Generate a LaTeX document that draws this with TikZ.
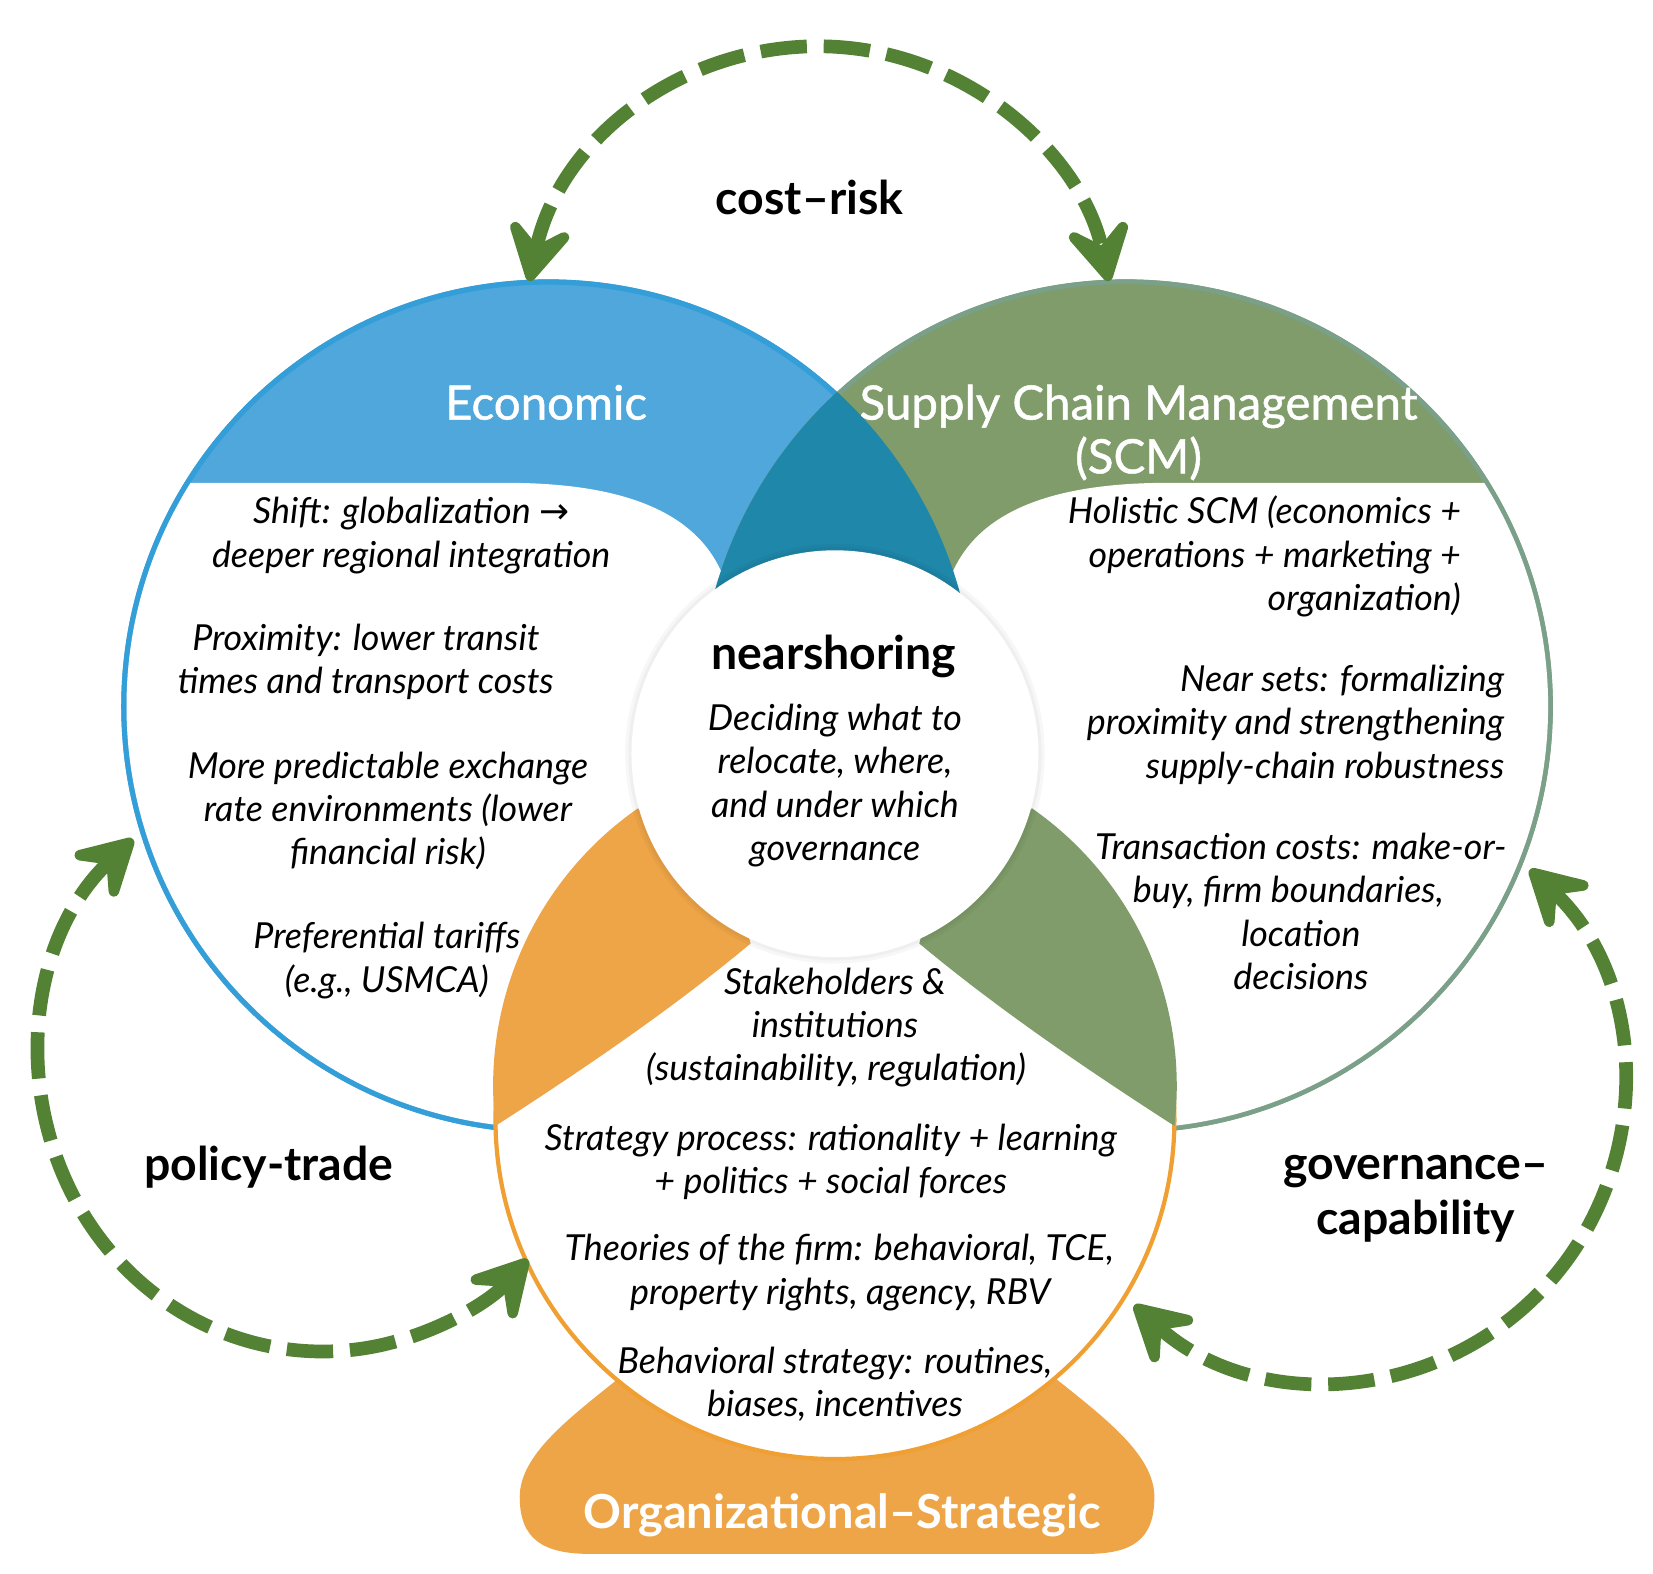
\documentclass[tikz,border=0pt]{standalone}
\usepackage{fontspec}
\setmainfont{Lato}
\newfontfamily\headfont[FakeBold=1]{Lato}
\newfontfamily\dejavu{DejaVu Sans}
\usetikzlibrary{arrows.meta}
\definecolor{blueband}{RGB}{79,167,219}
\definecolor{blueline}{RGB}{52,158,216}
\definecolor{tealc}{RGB}{30,135,170}
\definecolor{greenband}{RGB}{127,156,106}
\definecolor{greenline}{RGB}{122,160,138}
\definecolor{orangec}{RGB}{238,165,72}
\definecolor{orangeline}{RGB}{240,160,50}
\definecolor{arrowgreen}{RGB}{84,130,53}
\newcommand\bodyln[4]{\node[body,anchor=#1] (#2) at (#3) {#4};}
\begin{document}
\begin{tikzpicture}[x=1pt,y=-1pt,
  body/.style={font=\fontsize{34}{41}\selectfont\itshape, inner sep=0pt},
  head/.style={font=\fontsize{45}{52}\selectfont\headfont, text=white, inner sep=0pt},
  headb/.style={font=\fontsize{44.5}{52}\selectfont\bfseries, text=white, inner sep=0pt},
  lab/.style={font=\fontsize{44}{52}\selectfont\bfseries, inner sep=0pt},
  tipc/.tip={Stealth[length=72pt,width=80pt,inset=32pt,round,line width=14pt]},
  flow/.style={draw=arrowgreen, line width=13pt, dash pattern=on 44pt off 16pt, tipc-tipc}]
\useasboundingbox (0,0) rectangle (1568,1493);
\fill[white] (0,0) rectangle (1568,1493);
% circle centres
\coordinate (E) at (520,670);
\coordinate (S) at (1068,670);
\coordinate (O) at (792,1062);
\coordinate (N) at (792,715);
% Economic circle
\fill[blueband] (E) circle (405);
\draw[blueline, line width=5pt] (E) circle (402.5);
% SCM circle
\fill[greenband] (S) circle (405);
\draw[greenline, line width=4.5pt] (S) circle (402.7);
% inner white of Economic
\begin{scope}
\clip (E) circle (400);
\fill[white] (0,458) -- (480,458) .. controls (600,458) and (670,490) .. (690,558) -- (690,1600) -- (0,1600) -- cycle;
\end{scope}
% inner white of SCM
\begin{scope}
\clip (S) circle (400.5);
\fill[white] (1600,458) -- (1108,458) .. controls (988,458) and (918,490) .. (898,558) -- (898,1600) -- (1600,1600) -- cycle;
\end{scope}
% overlap Economic/SCM
\begin{scope}
\clip (E) circle (405);
\clip (0,0) rectangle (1568,620);
\fill[tealc] (S) circle (405);
\end{scope}
% bottom label blob
\fill[orangec] (590,1305) .. controls (540,1345) and (493,1380) .. (493,1420) .. controls (493,1460) and (515,1474) .. (560,1474) -- (1030,1474) .. controls (1075,1474) and (1095,1460) .. (1095,1420) .. controls (1095,1380) and (1048,1345) .. (998,1305) -- cycle;
% Organizational circle
\filldraw[fill=white, draw=orangeline, line width=4pt] (O) circle (322);
% lenses
\fill[orangec] (470,1068) arc[start angle=173.2, end angle=235.1, radius=321] -- (700,850) -- (712,895) .. controls (640,955) and (560,1010) .. (470,1068) -- cycle;
\fill[greenband] (1114,1068) arc[start angle=6.8, end angle=-55.1, radius=321] -- (884,850) -- (872,895) .. controls (944,955) and (1024,1010) .. (1114,1068) -- cycle;
% nearshoring circle
\fill[black, opacity=0.03] (N) circle (199);
\fill[black, opacity=0.03] (N) circle (196);
\fill[white] (N) circle (193);
% headers
\node[head, anchor=base] (hE) at (518,398) {Economic};
\node[head, anchor=base] (hS1) at (1080,398) {Supply Chain Management};
\node[head, anchor=base] (hS2) at (1080,449) {(SCM)};
\node[headb, anchor=base] (hO) at (799,1450) {Organizational–Strategic};
% labels
\node[lab, anchor=base] (lc) at (768,203) {cost–risk};
\node[lab, anchor=base] (lp) at (255,1120) {policy-trade};
\node[lab, anchor=base] (lg1) at (1343,1119) {governance–};
\node[lab, anchor=base] (lg2) at (1343,1171) {capability};
\node[lab, anchor=base] (ln) at (791,635) {nearshoring};
% Economic texts
\bodyln{base}{e1}{390,497}{Shift: globalization {\dejavu\upshape →}}
\bodyln{base}{e2}{390,538}{deeper regional integration}
\bodyln{base}{e3}{347,617}{Proximity: lower transit}
\bodyln{base}{e4}{347,658}{times and transport costs}
\bodyln{base}{e5}{368,738}{More predictable exchange}
\bodyln{base}{e6}{368,779}{rate environments (lower}
\bodyln{base}{e7}{368,820}{financial risk)}
\bodyln{base}{e8}{367,900}{Preferential tariffs}
\bodyln{base}{e9}{367,941}{(e.g., USMCA)}
% SCM texts
\bodyln{base east}{s1}{1386,497}{Holistic SCM (economics +}
\bodyln{base east}{s2}{1386,538}{operations + marketing +}
\bodyln{base east}{s3}{1386,579}{organization)}
\bodyln{base east}{s4}{1427,656}{Near sets: formalizing}
\bodyln{base east}{s5}{1427,697}{proximity and strengthening}
\bodyln{base east}{s6}{1427,738}{supply-chain robustness}
\bodyln{base}{s7}{1234,815}{Transaction costs: make-or-}
\bodyln{base}{s8}{1222,856}{buy, firm boundaries,}
\bodyln{base}{s9}{1234,898}{location}
\bodyln{base}{s10}{1234,939}{decisions}
% nearshoring texts
\bodyln{base}{n1}{792,693}{Deciding what to}
\bodyln{base}{n2}{792,734}{relocate, where,}
\bodyln{base}{n3}{792,775}{and under which}
\bodyln{base}{n4}{792,816}{governance}
% Organizational texts
\bodyln{base}{o1}{792,943}{Stakeholders \&}
\bodyln{base}{o2}{792,984}{institutions}
\bodyln{base}{o3}{793,1025}{(sustainability, regulation)}
\bodyln{base}{o4}{788,1091}{Strategy process: rationality + learning}
\bodyln{base}{o5}{788,1132}{+ politics + social forces}
\bodyln{base}{o6}{796,1196}{Theories of the firm: behavioral, TCE,}
\bodyln{base}{o7}{797,1237}{property rights, agency, RBV}
\bodyln{base}{o8}{792,1303}{Behavioral strategy: routines,}
\bodyln{base}{o9}{792,1344}{biases, incentives}
% arrows
\coordinate (crL) at (502.1,266.6);
\coordinate (ptU) at (126.3,796.0);
\coordinate (gcU) at (1451.2,824.8);
\draw[flow] (crL) arc[start angle=192, end angle=348, radius=281];
\draw[flow] (ptU) arc[start angle=227.9, end angle=43.4, x radius=268, y radius=279];
\draw[flow] (gcU) arc[start angle=-47.1, end angle=132, x radius=278, y radius=280];
\end{tikzpicture}
\end{document}
